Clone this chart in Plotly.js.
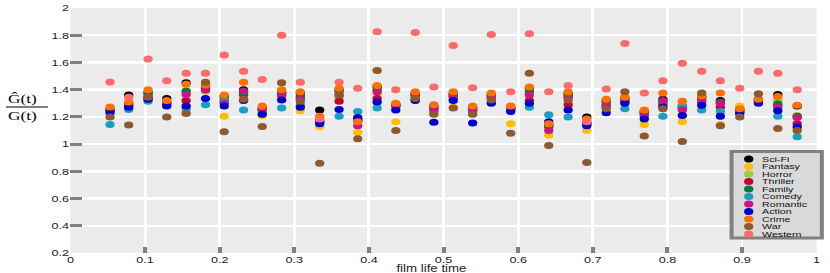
<!DOCTYPE html>
<html><head><meta charset="utf-8">
<script src="https://cdn.plot.ly/plotly-3.0.1.min.js"></script>
<style>
html,body{margin:0;padding:0;overflow:hidden;background:#fff;width:830px;height:273px}
#wrap{width:830px;height:273px;overflow:hidden}
#chart{width:624px;height:273px;transform:scale(1.33,1);transform-origin:0 0}
</style></head><body><div id="wrap"><div id="chart"></div></div>
<script>
// ---- data ----
const filmTime = [0.053,0.078,0.104,0.129,0.155,0.181,0.206,0.232,0.257,0.283,0.308,0.334,0.360,0.385,0.411,0.436,0.462,0.487,0.513,0.539,0.564,0.590,0.615,0.641,0.667,0.692,0.718,0.743,0.769,0.794,0.820,0.846,0.871,0.897,0.922,0.948,0.974];
const genres = ['Sci-Fi','Fantasy','Horror','Thriller','Family','Comedy','Romantic','Action','Crime','War','Western'];
const colors = ['#000000','#ffbf00','#9acd32','#c4003a','#007a3d','#1a9fc0','#c71585','#0000c8','#ff7000','#8c5a2e','#ff6b6b'];
const sciFi   = [1.25,1.36,1.38,1.335,1.45,1.43,1.35,1.40,1.255,1.38,1.375,1.25,1.40,1.18,1.42,1.29,1.37,1.28,1.37,1.27,1.36,1.27,1.41,1.14,1.37,1.20,1.32,1.335,1.24,1.33,1.28,1.35,1.32,1.26,1.33,1.365,1.28];
const fantasy = [1.24,1.28,1.33,1.29,1.24,1.39,1.205,1.34,1.21,1.39,1.245,1.13,1.34,1.085,1.37,1.165,1.345,1.235,1.27,1.23,1.33,1.15,1.37,1.065,1.31,1.10,1.30,1.35,1.145,1.285,1.165,1.33,1.145,1.28,1.31,1.33,1.20];
const horror  = [1.25,1.29,1.36,1.30,1.38,1.39,1.32,1.36,1.25,1.37,1.35,1.16,1.345,1.17,1.395,1.28,1.36,1.27,1.36,1.26,1.35,1.26,1.38,1.125,1.35,1.15,1.305,1.33,1.23,1.30,1.265,1.335,1.30,1.255,1.32,1.315,1.21];
const thriller= [1.245,1.29,1.35,1.31,1.32,1.41,1.31,1.365,1.265,1.36,1.34,1.175,1.315,1.175,1.335,1.285,1.36,1.26,1.35,1.25,1.34,1.255,1.32,1.135,1.29,1.16,1.28,1.315,1.225,1.29,1.26,1.31,1.27,1.245,1.31,1.285,1.15];
const family  = [1.25,1.29,1.37,1.30,1.39,1.40,1.33,1.38,1.25,1.375,1.355,1.16,1.39,1.17,1.40,1.285,1.37,1.275,1.365,1.265,1.355,1.26,1.39,1.13,1.355,1.15,1.31,1.33,1.235,1.31,1.27,1.34,1.31,1.25,1.325,1.295,1.205];
const comedy  = [1.145,1.255,1.315,1.285,1.26,1.29,1.315,1.25,1.24,1.265,1.29,1.155,1.205,1.24,1.265,1.27,1.325,1.24,1.335,1.24,1.31,1.25,1.27,1.215,1.20,1.14,1.27,1.26,1.205,1.205,1.285,1.25,1.24,1.235,1.32,1.205,1.055];
const romantic= [1.255,1.30,1.34,1.30,1.365,1.40,1.30,1.39,1.26,1.355,1.33,1.165,1.365,1.135,1.385,1.29,1.355,1.255,1.355,1.25,1.345,1.265,1.36,1.10,1.34,1.155,1.285,1.32,1.215,1.32,1.25,1.32,1.30,1.24,1.315,1.27,1.195];
const action  = [1.23,1.27,1.33,1.28,1.28,1.335,1.28,1.32,1.22,1.325,1.27,1.15,1.255,1.195,1.31,1.25,1.32,1.16,1.32,1.155,1.30,1.24,1.30,1.165,1.25,1.135,1.23,1.30,1.185,1.27,1.21,1.285,1.205,1.225,1.30,1.245,1.125];
const crime   = [1.273,1.31,1.40,1.32,1.44,1.435,1.36,1.455,1.28,1.40,1.385,1.205,1.41,1.165,1.43,1.30,1.385,1.29,1.385,1.28,1.375,1.28,1.42,1.15,1.385,1.185,1.33,1.345,1.25,1.375,1.315,1.355,1.375,1.26,1.33,1.35,1.285];
const war     = [1.20,1.14,1.345,1.20,1.225,1.455,1.09,1.33,1.13,1.45,1.315,0.86,1.36,1.04,1.54,1.10,1.335,1.22,1.265,1.22,1.325,1.08,1.52,0.99,1.325,0.865,1.26,1.385,1.06,1.26,1.02,1.375,1.135,1.20,1.37,1.115,1.10];
const western = [1.456,1.345,1.625,1.465,1.52,1.52,1.655,1.535,1.475,1.80,1.455,1.185,1.455,1.41,1.825,1.40,1.82,1.42,1.725,1.415,1.805,1.385,1.81,1.385,1.43,1.165,1.405,1.74,1.375,1.465,1.595,1.535,1.465,1.41,1.535,1.52,1.40];
const seriesValues = [sciFi,fantasy,horror,thriller,family,comedy,romantic,action,crime,war,western];

const xTickVals = [0,0.1,0.2,0.3,0.4,0.5,0.6,0.7,0.8,0.9,1];
const xTickText = ['0','0.1','0.2','0.3','0.4','0.5','0.6','0.7','0.8','0.9','1'];
const yTickVals = [0.2,0.4,0.6,0.8,1,1.2,1.4,1.6,1.8,2];
const yTickText = ['0.2','0.4','0.6','0.8','1','1.2','1.4','1.6','1.8','2'];
const xMarkVals = [0.1,0.2,0.3,0.4,0.5,0.6,0.7,0.8,0.9];
const yMarkVals = [0.4,0.6,0.8,1,1.2,1.4,1.6,1.8];

// ---- traces ----
const traces = genres.map((g,i)=>({
  type:'scatter', mode:'markers', name:g, x:filmTime, y:seriesValues[i],
  marker:{size:7, color:colors[i], line:{width:0}}, showlegend:false, hoverinfo:'skip'
}));
traces.push({type:'scatter', mode:'markers', x:[], y:[], xaxis:'x2', yaxis:'y2', showlegend:false, hoverinfo:'skip'});

// ---- legend / titles (paper coords derived from reference pixels) ----
const toPy = p => (253 - p)/245;
const shapes = [];
const annotations = [];
shapes.push({type:'rect', xref:'paper', yref:'paper', x0:0.886, x1:1.007, y0:toPy(238), y1:toPy(151.5),
  line:{color:'#808080', width:3}, fillcolor:'#d9d9d9', layer:'above'});
genres.forEach((g,i)=>{
  const py = toPy(159 + 7.5*i);
  shapes.push({type:'circle', xref:'paper', yref:'paper', xsizemode:'pixel', ysizemode:'pixel',
    xanchor:0.909, yanchor:py, x0:-3.5, x1:3.5, y0:-3.5, y1:3.5, fillcolor:colors[i], line:{width:0}, layer:'above'});
  annotations.push({xref:'paper', yref:'paper', x:0.925, y:py, xanchor:'left', yanchor:'middle',
    text:g, showarrow:false, borderpad:0, font:{size:8, color:'#111'}});
});
// y title as a fraction
annotations.push({xref:'paper', yref:'paper', x:-0.088, y:0.629, xanchor:'left', yanchor:'middle',
  text:'Ĝ(t)', showarrow:false, font:{family:'Liberation Serif, DejaVu Serif, serif', size:13, color:'#000'}});
annotations.push({xref:'paper', yref:'paper', x:-0.088, y:0.561, xanchor:'left', yanchor:'middle',
  text:'G(t)', showarrow:false, font:{family:'Liberation Serif, DejaVu Serif, serif', size:13, color:'#000'}});
shapes.push({type:'line', xref:'paper', yref:'paper', x0:-0.0864, x1:-0.0301, y0:0.596, y1:0.596, line:{color:'#000', width:1}});
// x title
annotations.push({xref:'paper', yref:'paper', x:0.484, y:toPy(268.5), xanchor:'center', yanchor:'middle',
  text:'film life time', showarrow:false, borderpad:0, font:{size:10, color:'#222'}});

const layout = {
  width:624, height:273,
  margin:{l:53, r:10, t:8, b:20, pad:0},
  paper_bgcolor:'#ffffff', plot_bgcolor:'#ebebeb',
  showlegend:false,
  font:{family:'Liberation Sans, Arial, sans-serif', size:9, color:'#222'},
  xaxis:{range:[0,1], tickvals:xTickVals, ticktext:xTickText, ticks:'', showgrid:true, gridcolor:'#ffffff', gridwidth:2.2,
    zeroline:false, showline:false, tickfont:{size:9.5, color:'#222'}},
  yaxis:{range:[0.2,2], tickvals:yTickVals, ticktext:yTickText, ticks:'', showgrid:true, gridcolor:'#ffffff', gridwidth:2.5,
    zeroline:false, showline:false, tickfont:{size:9.5, color:'#222'}},
  xaxis2:{overlaying:'x', anchor:'y', range:[0,1], tickvals:xMarkVals, ticks:'inside', ticklen:6, tickwidth:3, tickcolor:'#808080',
    showticklabels:false, showgrid:false, zeroline:false, showline:false},
  yaxis2:{overlaying:'y', anchor:'x', side:'left', range:[0.2,2], tickvals:yMarkVals, ticks:'inside', ticklen:8.3, tickwidth:3, tickcolor:'#808080',
    showticklabels:false, showgrid:false, zeroline:false, showline:false},
  shapes:shapes, annotations:annotations
};
Plotly.newPlot('chart', traces, layout, {staticPlot:true, displayModeBar:false});
</script></body></html>
